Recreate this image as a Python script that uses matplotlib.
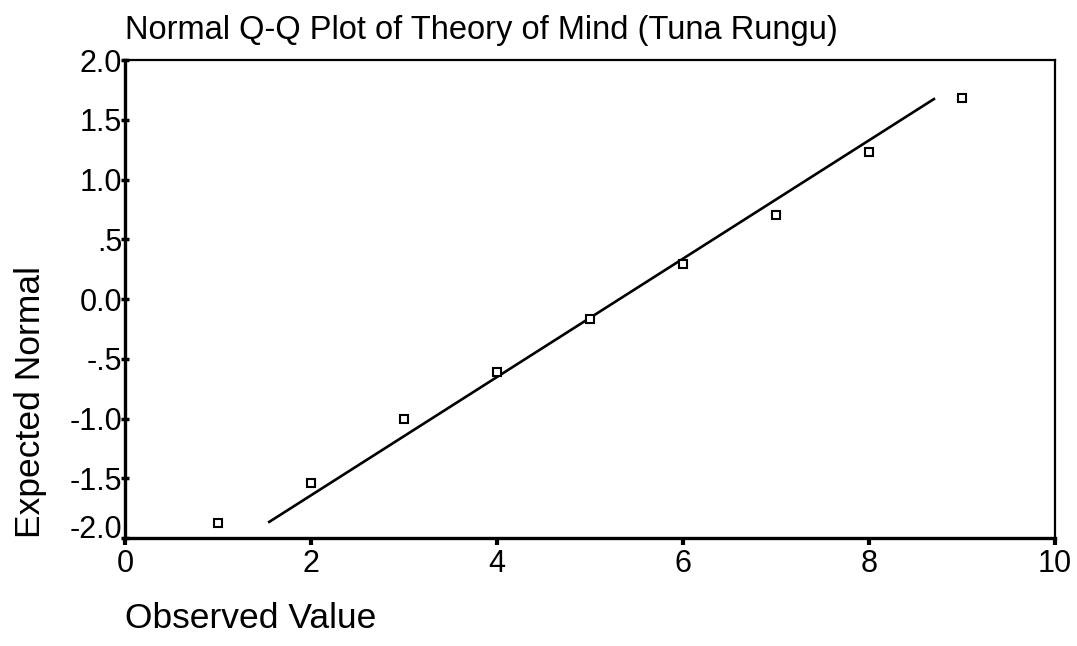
import matplotlib
matplotlib.use("Agg")
import matplotlib.pyplot as plt

# ── Data ─────────────────────────────────────────────────────────────────────
observed = [1, 2, 3, 4, 5, 6, 7, 8, 9]
expected = [-1.87, -1.54, -1.00, -0.61, -0.17, 0.29, 0.70, 1.23, 1.68]

# reference line (from min to max expected normal)
line_x = [1.54, 8.71]
line_y = [-1.87, 1.68]

xticks = [0, 2, 4, 6, 8, 10]
yticks = [2.0, 1.5, 1.0, 0.5, 0.0, -0.5, -1.0, -1.5, -2.0]
ytick_labels = ["2.0", "1.5", "1.0", ".5", "0.0", "-.5", "-1.0", "-1.5", "-2.0"]

title = "Normal Q-Q Plot of Theory of Mind (Tuna Rungu)"

plt.rcParams["font.family"] = ["Liberation Sans", "DejaVu Sans"]

# ── Plot ─────────────────────────────────────────────────────────────────────
fig = plt.figure(figsize=(10.77, 6.46), dpi=100)
ax = fig.add_axes([0.116, 0.167, 0.8636, 0.740])

ax.plot(line_x, line_y, color="black", lw=1.9, solid_capstyle="butt")
ax.plot(observed, expected, ls="none", marker="s", ms=5.8,
        mfc="white", mec="black", mew=1.5)

ax.set_xlim(0, 10)
ax.set_ylim(-2.0, 2.0)
ax.set_xticks(xticks)
ax.set_yticks(yticks)
ax.set_yticklabels(ytick_labels)

ax.tick_params(axis="both", labelsize=22, colors="black")
ax.tick_params(axis="y", direction="inout", length=6, width=2.5, pad=-1)
ax.tick_params(axis="x", direction="out", length=5, width=3, pad=3)

# the lowest y label sits just above the x axis, as in SPSS output
ax.get_yticklabels()[-1].set_verticalalignment("baseline")

for side in ("left", "bottom"):
    ax.spines[side].set_linewidth(2.4)
for side in ("top", "right"):
    ax.spines[side].set_linewidth(1.6)

fig.text(0.116, 0.953, title, fontsize=23.5, ha="left", va="center")
fig.text(0.116, 0.043, "Observed Value", fontsize=25.5, ha="left", va="center")
fig.text(0.028, 0.378, "Expected Normal", fontsize=25.5, rotation=90,
         ha="center", va="center")

fig.savefig("out.png", dpi=100, facecolor="white")
